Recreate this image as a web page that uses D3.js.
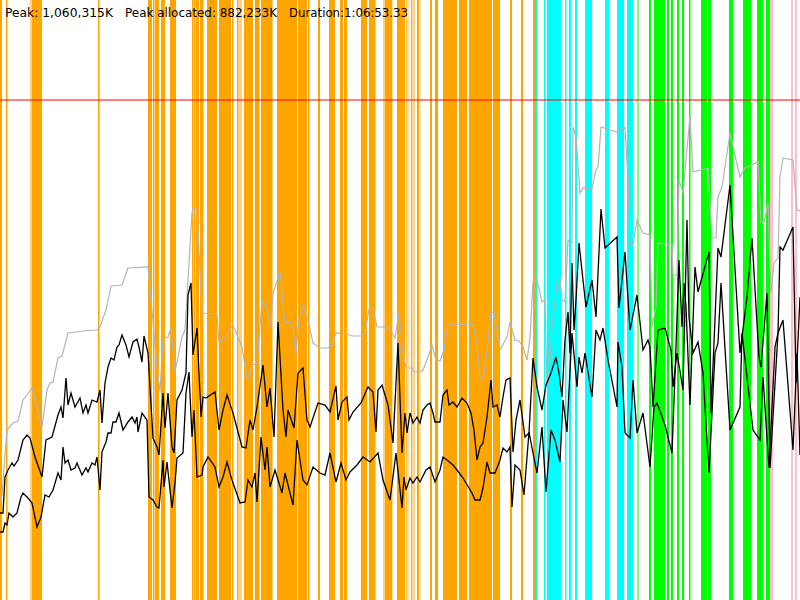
<!DOCTYPE html>
<html>
<head>
<meta charset="utf-8">
<script src="https://cdn.jsdelivr.net/npm/d3@7"></script>
<style>
html,body{margin:0;padding:0;background:#fff;}
svg{display:block;}
</style>
</head>
<body>
<svg id="chart" width="800" height="600"></svg>
<script>
// ---- data (x: snapshot index, ~5.02 s per snapshot; y: % of peak memory) ----
const peakK = 1060315;
const peakAllocatedK = 882233;
const durationLabel = "1:06:53.33";
const sampleDomain = [0, 800];
const percentDomain = [0, 120];
const peakPercent = 100;

const orangeBands = [[0,2],[6,7.5],[32,42],[98,99.5],[148,152],[153,154.5],[155,159],[161,165],[170,176],[192,193.5],[194,195.5],[196,199],[200,203.5],[207,217],[219,231],[232,233.5],[237,238.5],[244,253],[255,259.5],[261,272],[277,297],[298,307],[308,309.5],[318,320],[329,335],[340,343],[344,347],[361,367],[369,375],[385,392],[397,405],[406.3,407.3],[411,412.3],[417,419],[430,432],[435,438],[443,457],[459,467],[469,492],[493,500],[510,512],[521,523],[533,536]];
const orangeFaintBands = [[30,32],[239,242],[270,273],[375,376],[383,385],[392.3,393.3],[408.3,409.3],[413,415],[419.5,420.5]];
const cyanBands = [[536,537.5],[544,545.5],[547,561],[565,566.5],[569,571],[575,577],[585,592],[605,609],[617,624],[627,633]];
const greenBands = [[649,651],[654,665],[667,669],[671,673],[677,679],[682,684],[689,690.5],[701,707],[708,711],[729,733],[743,751],[757,763],[766,770]];
const greenFaintBands = [[637,639]];
const pinkBands = [[770,773],[791,793],[795,797]];

const heapSize = [[0,20],[2,21],[5,29],[7,34],[13,35.4],[18,35.8],[23,40],[27,41],[32,42.4],[42,34.6],[47,42],[50,43.4],[53,43.6],[58,48.4],[62,48.8],[68,53.4],[83,53.8],[97,54],[100,54.6],[106,58],[111,62.8],[122,63],[128,66.4],[148,66.6],[154,53.4],[157,46.6],[160,41.6],[163,52.4],[168,52.6],[171,54.4],[175,45.6],[182,52.6],[185,54],[192,77.4],[193,78.2],[197,78.2],[202,57.4],[217,57.2],[219,51.6],[223,52],[227,53],[233,55],[242,50.6],[247,44.4],[249,44.2],[252,47],[257,47.2],[262,59.8],[266,59],[271,54.6],[273,61.4],[280,65.6],[285,55.4],[290,55.6],[293,54.6],[296,49],[299,56.6],[303,59],[308,56],[313,51.4],[320,50.4],[328,50.4],[332,51],[336,53.4],[347,53.2],[352,52.8],[362,52.8],[365,53.4],[369,58.2],[373,58.2],[377,54.6],[388,54.6],[391,53.8],[395,52.4],[399,57.4],[403,49.4],[406,46.4],[412,46.4],[415,45.6],[420,45.6],[423,46],[428,48.6],[432,51],[436,48],[440,47.8],[444,50],[448,55],[473,55.2],[477,51.4],[480,44.4],[483,44],[487,49.6],[491,57.6],[494,57.4],[497,54],[500,50],[507,52.6],[510,55.6],[515,52],[519,51.8],[523,50.6],[527,48],[530,52.4],[533,63.6],[537,64],[542,59.6],[545,60],[547,42.6],[549,44],[552,54.6],[557,63.4],[560,64.2],[562,60],[565,59.6],[568,72],[572,71.4],[573,94.6],[576,92.6],[580,81.4],[583,82.4],[592,82.2],[596,86],[598,86.6],[601,94.6],[617,93.6],[625,94.6],[628,84.6],[630,71],[633,71],[637,76],[643,73.4],[650,73],[652,54.6],[656,58.6],[658,71.4],[672,71],[673,65],[677,65],[679,84],[683,81.4],[686,88],[690,96.8],[693,85.6],[708,86.4],[712,72.4],[716,72.4],[718,80.6],[722,82.6],[730,93.4],[740,84.6],[745,86.4],[758,87.6],[761,75.6],[764,75.4],[768,79.4],[771,61.4],[774,67.4],[778,68.4],[780,84.6],[783,88.4],[793,88],[797,78],[800,77.8]];

const usedUpper = [[0,17.4],[3,17.4],[5,24.6],[8,26],[12,27.4],[14,26.8],[18,28],[23,32],[27,33],[30,32.4],[35,28.6],[42,24.6],[46,32],[52,32.6],[58,37],[61,38.6],[63,36.4],[66,44.4],[68,39],[71,41.4],[75,38.6],[80,40.4],[83,37.4],[86,39],[88,37.4],[92,40],[97,39.6],[100,42],[102,35.4],[105,43.4],[108,46.6],[111,48.4],[114,48],[117,50.6],[119,51],[122,53],[126,51],[129,48.6],[133,51.6],[137,52.2],[139,50.6],[142,47.6],[144,52.8],[148,49.4],[153,32.4],[157,30.6],[159,29],[163,41.4],[165,34.4],[168,41.4],[172,30.6],[174,29.4],[177,40],[182,42],[186,45.4],[188,61],[191,63.4],[193,49],[197,54.4],[201,36.6],[203,40.6],[206,40.4],[215,41.6],[219,34],[223,38],[227,41],[233,37.4],[242,30.6],[246,30.4],[250,36],[253,34],[257,38.6],[263,47],[267,38.6],[270,42.4],[274,32.6],[278,55.6],[283,38],[286,32.6],[288,38],[294,34.4],[298,45.4],[303,46.4],[307,36],[310,34.6],[318,39.4],[325,39],[330,37.6],[336,42.8],[338,36],[342,39.6],[347,40.6],[349,36],[353,37.6],[361,39.4],[368,42.6],[373,41.6],[376,33.6],[378,42],[382,43],[388,39],[393,31.4],[398,51.4],[402,29.4],[405,37.4],[407,33.4],[410,37.4],[413,35.4],[417,36.6],[420,35.4],[423,38],[427,39],[430,39.4],[433,37.4],[435,35.6],[440,35.6],[443,41],[447,42],[449,39],[453,39.6],[457,38.6],[462,40.4],[467,39.4],[471,37.4],[474,34],[477,28],[480,30.6],[483,31.4],[487,36.6],[491,44],[493,38.6],[497,39],[500,36.6],[503,40.6],[506,44],[510,44.4],[513,29.6],[516,36],[520,40],[525,32.6],[529,33.4],[533,48.4],[537,42.6],[542,38],[546,43],[551,45.4],[556,48.6],[559,45.4],[562,40.6],[565,52],[568,57.6],[570,49.4],[572,67.4],[574,54],[576,60],[579,71.4],[583,64],[586,58.6],[592,64],[596,56.6],[601,78.2],[605,70.4],[617,72.6],[619,58.4],[625,69.6],[630,54],[637,61],[643,50],[648,52],[650,50.6],[653,38.6],[658,54],[665,54.4],[671,50],[673,42.6],[677,49.4],[683,42],[687,76],[689,56.6],[693,49.4],[698,51.6],[703,45.4],[709,25.4],[715,49.4],[718,51.4],[721,63.4],[730,34],[740,38.6],[742,53.4],[753,34],[760,32],[763,44.6],[769,26.4],[775,50.6],[778,53.4],[783,56],[793,30],[797,49.4],[800,29]];

const usedLower = [[0,13.6],[3,13.6],[5,15.4],[7,15],[9,17.4],[13,16.6],[17,17.4],[21,20.6],[23,21.4],[28,20.4],[32,19.4],[37,14.6],[41,16.6],[45,21],[49,20.6],[53,22],[58,25.4],[61,24],[63,30.6],[65,27.4],[68,28],[71,26],[75,26.4],[77,27.4],[82,25],[86,26.4],[88,25.6],[92,27.4],[95,27],[97,28.6],[100,22],[102,29.6],[106,31.6],[108,33.4],[111,33.4],[113,35.6],[116,35.6],[119,37.4],[123,34],[128,35.6],[132,36.6],[135,35.4],[137,36.6],[138,33.6],[142,37.4],[147,36],[149,20.6],[153,20],[157,18.6],[159,18.4],[163,28],[164,22.6],[167,27.6],[172,18.4],[175,23.4],[177,28.4],[183,29.4],[186,41.4],[189,45.6],[192,32.6],[194,38],[197,24.6],[202,25],[203,26.6],[208,28.6],[215,26.6],[219,22.6],[223,24.6],[227,27.6],[232,24],[240,19.4],[245,19.6],[248,24],[252,22.6],[255,25.4],[257,19.6],[261,32.6],[265,26],[267,30.6],[270,22.6],[275,26],[282,21.4],[285,25.4],[293,19],[297,32],[303,24],[307,23],[313,26.6],[320,25.4],[325,25],[330,29.4],[336,23.6],[341,27.4],[346,24],[350,25.6],[357,27],[363,28.6],[370,27.6],[378,29.4],[383,24],[390,20],[396,29.4],[402,18.4],[404,24.6],[406,22],[410,24.4],[413,23.4],[417,24.6],[420,23.6],[426,26],[430,26.6],[435,23.6],[440,26],[443,28.6],[447,28],[453,27],[457,26],[463,24.4],[472,21.4],[475,20],[480,20],[483,22.4],[487,27.6],[490,25.4],[495,25.4],[500,28],[503,30.4],[507,29.6],[510,30.6],[512,18.6],[515,27],[520,26],[524,21],[529,33.6],[533,29.4],[537,25.4],[542,34.6],[546,21.6],[551,34],[555,32],[560,27.6],[563,40],[567,33.6],[569,42],[572,53.4],[577,42.6],[579,48.6],[582,45.4],[585,49.4],[592,40.6],[596,54],[600,52],[603,54.4],[608,48],[617,38.6],[618,51.6],[622,46.6],[625,33.4],[630,32.4],[633,44],[637,33.4],[643,37.4],[650,26.6],[654,38.6],[657,39.4],[665,35],[672,29.4],[676,50.6],[679,68],[682,54.6],[684,63.4],[686,58.6],[690,39],[695,66.6],[698,61.6],[709,69.6],[711,37.4],[718,70.4],[721,68.6],[730,83],[740,49.4],[747,60.6],[752,72.4],[759,48.6],[761,46.6],[767,61.4],[770,26.4],[778,53.4],[780,70.6],[783,70],[793,74.6],[796,43.4],[800,60.6]];

// ---- drawing ----
const W = 800, H = 600;
const svg = d3.select("#chart");
const x = d3.scaleLinear().domain(sampleDomain).range([0, W]);
const y = d3.scaleLinear().domain(percentDomain).range([H, 0]);

const bandGroups = [
  {data: orangeFaintBands, color: "#ffa500", op: 0.5},
  {data: orangeBands, color: "#ffa500", op: 1},
  {data: cyanBands, color: "#00ffff", op: 1},
  {data: greenFaintBands, color: "#00ff00", op: 0.5},
  {data: greenBands, color: "#00ff00", op: 1},
  {data: pinkBands, color: "#ffc0cb", op: 1}
];
const bg = svg.append("g").attr("class", "bands");
bandGroups.forEach(g => {
  bg.selectAll(null).data(g.data).enter().append("rect")
    .attr("x", d => x(d[0]))
    .attr("width", d => Math.max(1, x(d[1]) - x(d[0])))
    .attr("y", 0).attr("height", H)
    .attr("fill", g.color).attr("fill-opacity", g.op);
});

svg.append("line")
  .attr("x1", x(sampleDomain[0])).attr("x2", x(sampleDomain[1]))
  .attr("y1", y(peakPercent)).attr("y2", y(peakPercent))
  .attr("stroke", "#ff0000").attr("stroke-opacity", 0.5).attr("stroke-width", 2);

const line = d3.line().x(d => x(d[0])).y(d => y(d[1]));
svg.append("path").datum(heapSize).attr("d", line)
  .attr("fill", "none").attr("stroke", "#b4b4b4").attr("stroke-width", 1.2);
svg.append("path").datum(usedUpper).attr("d", line)
  .attr("fill", "none").attr("stroke", "#000").attr("stroke-width", 1.3);
svg.append("path").datum(usedLower).attr("d", line)
  .attr("fill", "none").attr("stroke", "#000").attr("stroke-width", 1.3);

const fmt = d3.format(",");
const labels = [
  {t: "Peak: " + fmt(peakK) + "K", x: 5, w: 108},
  {t: "Peak allocated: " + fmt(peakAllocatedK) + "K", x: 125, w: 152},
  {t: "Duration:" + durationLabel, x: 289, w: 119}
];
svg.selectAll("text.hdr").data(labels).enter().append("text")
  .attr("class", "hdr")
  .attr("x", d => d.x).attr("y", 16.5)
  .attr("textLength", d => d.w).attr("lengthAdjust", "spacingAndGlyphs")
  .attr("font-family", "DejaVu Sans, Verdana, sans-serif")
  .attr("font-size", 12.5).attr("fill", "#000")
  .text(d => d.t);
</script>
</body>
</html>
